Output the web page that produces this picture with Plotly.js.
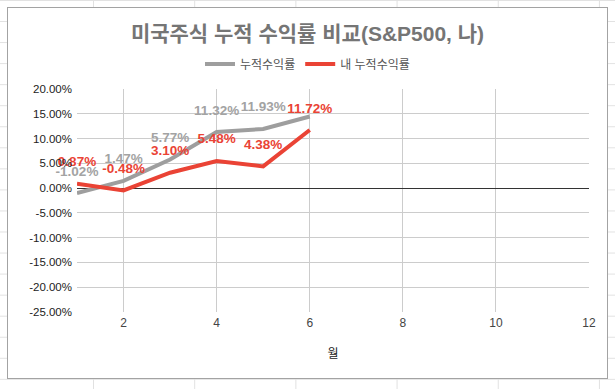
<!DOCTYPE html>
<html>
<head>
<meta charset="utf-8">
<script src="https://cdn.plot.ly/plotly-3.0.1.min.js"></script>
<style>
  html, body { margin: 0; padding: 0; width: 615px; height: 389px; overflow: hidden; }
  body {
    background-color: #ffffff;
    background-image:
      linear-gradient(to right, #e1e1e1 1px, transparent 1px),
      linear-gradient(to bottom, #e1e1e1 1px, transparent 1px);
    background-size: 101.2px 21.06px, 101.2px 21.06px;
    background-position: 93px 0px, 0px 0px;
  }
  #chart {
    position: absolute; left: 7px; top: 7px;
    width: 599px; height: 370px;
    border: 1px solid #a3a3a3;
    background: #ffffff;
  }
</style>
</head>
<body>
<div id="chart"></div>
<script>
// ---- data ----
const months = [1, 2, 3, 4, 5, 6];
const marketReturn = [-1.02, 1.47, 5.77, 11.32, 11.93, 14.45];   // 누적수익률 (%)
const myReturn = [0.87, -0.48, 3.10, 5.48, 4.38, 11.72];         // 내 누적수익률 (%)
const marketLabelShown = [true, true, true, true, true, false];
const myLabelShown = [true, true, true, true, true, true];
const seriesNames = ['누적수익률', '내 누적수익률'];
const xTickVals = [2, 4, 6, 8, 10, 12];
const yTickVals = [20, 15, 10, 5, 0, -5, -10, -15, -20, -25];
const yTickText = ['20.00%', '15.00%', '10.00%', '5.00%', '0.00%', '-5.00%', '-10.00%', '-15.00%', '-20.00%', '-25.00%'];

const fmt = (v, show) => show ? v.toFixed(2) + '%' : '';
const FONT = 'Liberation Sans, Arial, Noto Sans CJK KR, sans-serif';

const traces = [
  {
    x: months, y: marketReturn, name: seriesNames[0],
    mode: 'lines+markers+text',
    line: { color: '#9e9e9e', width: 4 },
    marker: { size: 21, color: 'rgba(0,0,0,0)' },
    text: marketReturn.map((v, i) => fmt(v, marketLabelShown[i])),
    textposition: 'top center',
    textfont: { family: FONT, size: 13.5, color: '#a3a3a3', weight: 'bold' },
    hoverinfo: 'skip', cliponaxis: false
  },
  {
    x: months, y: myReturn, name: seriesNames[1],
    mode: 'lines+markers+text',
    line: { color: '#ea4335', width: 4 },
    marker: { size: 21, color: 'rgba(0,0,0,0)' },
    text: myReturn.map((v, i) => fmt(v, myLabelShown[i])),
    textposition: 'top center',
    textfont: { family: FONT, size: 13.5, color: '#ea4335', weight: 'bold' },
    hoverinfo: 'skip', cliponaxis: false
  }
];

const layout = {
  width: 599, height: 370,
  margin: { l: 69, r: 18, t: 81, b: 66 },
  paper_bgcolor: '#ffffff', plot_bgcolor: '#ffffff',
  font: { family: FONT, color: '#222222' },
  title: {
    text: '미국주식 누적 수익률 비교(S&P500, 나)',
    x: 0.5, xref: 'container', xanchor: 'center',
    y: 1 - 26 / 370, yref: 'container', yanchor: 'middle',
    font: { family: FONT, size: 21, color: '#757575', weight: 'bold' }
  },
  showlegend: true,
  legend: {
    orientation: 'h',
    x: 0.5, xref: 'container', xanchor: 'center',
    y: 1 - 56 / 370, yref: 'container', yanchor: 'middle',
    font: { family: FONT, size: 12, color: '#555555' },
    itemwidth: 30
  },
  xaxis: {
    range: [1, 12],
    tickvals: xTickVals,
    showgrid: true, gridcolor: '#cccccc', gridwidth: 1,
    zeroline: false, showline: false, ticks: '',
    tickfont: { family: FONT, size: 12, color: '#444444' },
    ticklabelstandoff: 2,
    title: { text: '월', font: { family: FONT, size: 12, color: '#222222' }, standoff: 20 },
    fixedrange: true
  },
  yaxis: {
    range: [-25, 20],
    tickvals: yTickVals, ticktext: yTickText,
    showgrid: true, gridcolor: '#cccccc', gridwidth: 1,
    zeroline: true, zerolinecolor: '#333333', zerolinewidth: 1,
    showline: false, ticks: '',
    tickfont: { family: FONT, size: 11.5, color: '#222222' },
    ticklabelstandoff: 4,
    fixedrange: true
  }
};

Plotly.newPlot('chart', traces, layout, { displayModeBar: false, staticPlot: true });
</script>
</body>
</html>
